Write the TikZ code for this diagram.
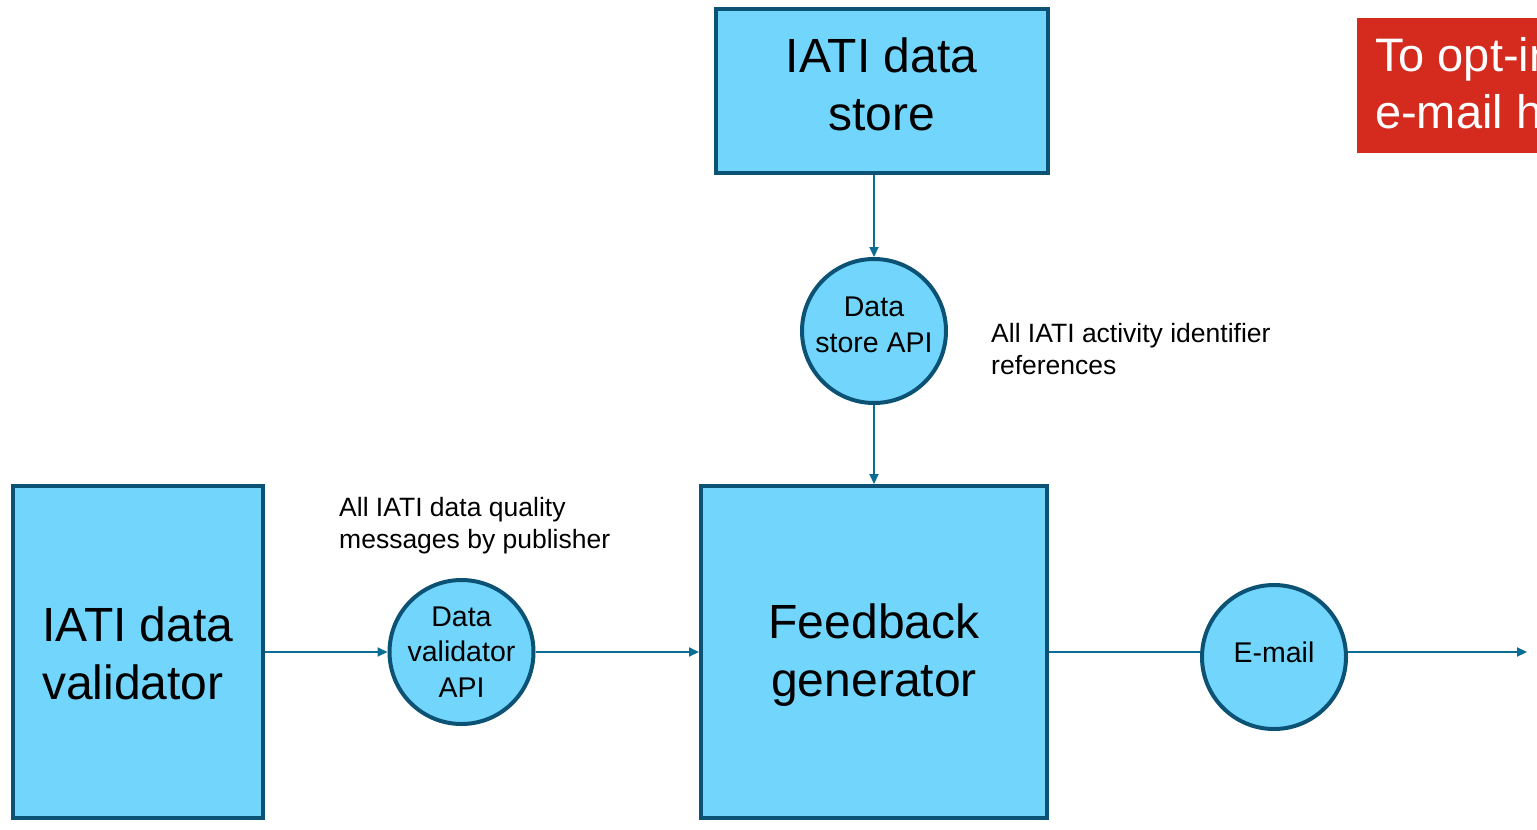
\documentclass[tikz,border=0pt]{standalone}
\usepackage{fontspec}
\setmainfont{Liberation Sans}
\usetikzlibrary{arrows.meta}
\definecolor{boxfill}{HTML}{72D6FC}
\definecolor{boxline}{HTML}{0B5275}
\definecolor{arrowc}{HTML}{0A6D93}
\definecolor{redbox}{HTML}{D52A1E}
\tikzset{
  bigbox/.style={draw=boxline, fill=boxfill, line width=4pt, inner sep=0pt},
  bigtext/.style={inner sep=0pt, align=center, font=\fontsize{48}{58}\selectfont},
  apicircle/.style={circle, draw=boxline, fill=boxfill, line width=4pt, inner sep=0pt,
    minimum size=144pt},
  apitext/.style={inner sep=0pt, align=center, font=\fontsize{28.5}{35.5}\selectfont},
  flow/.style={draw=arrowc, line width=2pt, -{Triangle[length=10pt,width=9pt]}},
  plainflow/.style={draw=arrowc, line width=2pt},
  note/.style={inner sep=0pt, align=left, anchor=west, font=\fontsize{26.5}{32}\selectfont},
}
\begin{document}
\begin{tikzpicture}[x=1pt, y=-1pt]
\clip (0,0) rectangle (1537,830);
\useasboundingbox (0,0) rectangle (1537,830);
\fill[white] (0,0) rectangle (1537,830);

% boxes
\node[bigbox, minimum width=332pt, minimum height=164pt] (store) at (881.5,90.5) {};
\node[bigtext] (storet) at ([yshift=6pt]store.center) {IATI data\\store};
\node[bigbox, minimum width=346pt, minimum height=332pt] (fb) at (874,652) {};
\node[bigtext] (fbt) at ([yshift=-3pt]fb.center) {Feedback\\generator};
\node[bigbox, minimum width=250pt, minimum height=332pt] (val) at (138,652) {};
\node[bigtext, align=left, anchor=west] (valt) at ([xshift=-96pt,yshift=-1pt]val.center) {IATI data\\validator};

% circles
\node[apicircle] (sapi) at (874,331) {};
\node[apitext] (sapit) at ([yshift=6pt]sapi.center) {Data\\store API};
\node[apicircle] (vapi) at (461.5,652) {};
\node[apitext] (vapit) at (vapi.center) {Data\\validator\\API};
\node[apicircle] (email) at (1274,657) {};
\node[apitext] (emailt) at ([yshift=5pt]email.center) {E-mail};

% labels
\node[note] (lab1) at (991,349) {All IATI activity identifier\\references};
\node[note] (lab2) at (339,525.5) {All IATI data quality\\messages by publisher};

% red box
\fill[redbox] (1357,18) rectangle (1580,153);
\node[inner sep=0pt, anchor=west, align=left, text=white, font=\fontsize{47}{57}\selectfont] (optin) at (1375,83.5) {To opt-in\\e-mail h};

% connectors
\coordinate (out) at (1527,652);
\draw[flow] (store.south -| sapi.north) -- (sapi.north);
\draw[flow] (sapi.south) -- (sapi.south |- fb.north);
\draw[flow] (val.east) -- (vapi.west);
\draw[flow] (vapi.east) -- (fb.west);
\draw[plainflow] (fb.east) -- (fb.east -| email.west);
\draw[flow] (email.east |- out) -- (out);
\end{tikzpicture}
\end{document}
